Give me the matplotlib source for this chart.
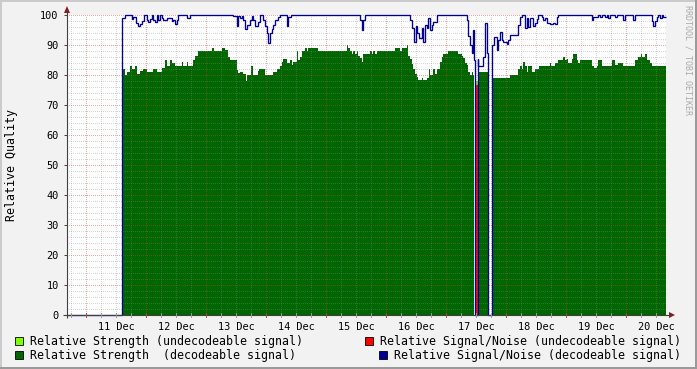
import numpy as np
import matplotlib
matplotlib.use("Agg")
import matplotlib.pyplot as plt
from matplotlib.patches import Rectangle, Polygon

# ---------------- data (hours after 11 Dec 00:00) ----------------
day_labels = ["11 Dec", "12 Dec", "13 Dec", "14 Dec", "15 Dec",
              "16 Dec", "17 Dec", "18 Dec", "19 Dec", "20 Dec"]
label_hours = [12, 36, 60, 84, 108, 132, 156, 180, 204, 228]
y_ticks = [0, 10, 20, 30, 40, 50, 60, 70, 80, 90, 100]

t_start, t_end = -7.6, 232.0

# Relative Strength (decodeable) - step series: start times and values
green_t = [14.5, 15.6, 16.3, 17.6, 18.3, 19.6, 20.3, 21.6, 22.8, 24.3, 26.8, 28.3,
           30.3, 31.6, 32.3, 33.6, 34.3, 35.6, 38.3, 38.9, 40.3, 40.9, 42.9, 43.6,
           44.9, 50.3, 51.2, 54.3, 55.6, 56.9, 57.6, 60.3, 60.9, 61.6, 62.8, 64.0,
           64.3, 66.0, 66.7, 68.9, 69.2, 71.6, 74.9, 76.3, 77.6, 78.3, 78.9, 80.3,
           81.6, 82.3, 82.9, 84.3, 84.9, 85.6, 86.3, 87.6, 88.3, 88.9, 92.9, 104.3,
           104.9, 105.6, 106.3, 106.9, 107.6, 108.3, 108.9, 109.6, 110.3, 110.9, 113.6,
           114.3, 114.9, 115.6, 116.3, 123.6, 125.6, 126.3, 128.3, 128.9, 129.6, 130.3,
           130.9, 131.6, 132.3, 132.9, 134.3, 134.9, 136.3, 137.2, 137.6, 138.7, 139.6,
           140.3, 141.6, 142.3, 142.9, 144.9, 148.9, 150.3, 150.9, 151.6, 152.3, 152.9,
           153.6, 154.3, 154.9, 155.3, 156.7, 160.9, 162.9, 169.6, 172.9, 173.6, 174.3,
           174.9, 175.6, 176.3, 176.9, 178.3, 179.6, 181.2, 185.6, 186.0, 187.6, 188.7,
           190.9, 191.6, 192.3, 192.9, 194.3, 194.9, 196.3, 196.9, 197.6, 202.3, 203.3,
           204.3, 204.9, 206.3, 210.3, 211.6, 212.9, 214.9, 219.6, 220.9, 222.0, 222.5,
           223.6, 224.3, 225.6, 226.3]
green_v = [82, 80, 81, 83, 82, 83, 80.5, 81.5, 82, 81, 82, 81,
           82.5, 85, 83, 85, 84, 83, 84.5, 83, 84.5, 83, 85, 86.5,
           88, 89, 88, 89, 88.5, 86, 85, 81.7, 80.6, 81, 80.2, 78,
           80, 83, 80, 81.5, 82, 80, 81, 82, 83, 84.5, 85.5, 84,
           85, 83.3, 84.4, 88, 85, 86, 88, 89, 88, 89, 88, 90,
           89, 88, 87, 88, 87, 88, 86.4, 85.8, 84.4, 87, 88,
           87, 88, 87, 88, 89, 88, 89, 90, 86.4, 85.3, 83.7,
           82, 80.3, 79.2, 78.4, 79, 78.4, 79, 82, 80, 82, 80.3,
           82, 84.2, 85.9, 87, 88, 87, 86.3, 85.8, 84, 83.4, 81,
           80, 81, 80, 0, 81, 0, 79, 80, 82, 83, 82,
           84.4, 83, 81, 83, 81, 82, 83, 84, 83, 84, 85,
           86, 85, 85.5, 84, 85.5, 87, 85, 84, 85, 83, 82.5,
           83, 85, 83, 85, 83.5, 84, 83, 85, 86, 87, 86,
           87, 85, 84, 83]

# Relative Signal/Noise (decodeable)
blue_t = [-7.6, 14.5, 15.6, 18.3, 18.9, 19.9, 20.6, 21.6, 22.3, 23.3, 24.3, 24.9,
          25.6, 26.3, 26.9, 27.6, 28.3, 28.9, 29.6, 30.3, 30.9, 32.3, 34.3, 34.9,
          35.6, 36.3, 36.9, 40.3, 41.6, 58.8, 60.3, 60.9, 61.6, 62.3, 62.9, 63.6,
          64.3, 65.6, 66.3, 66.9, 67.6, 68.9, 69.6, 70.9, 71.6, 72.3, 72.9, 73.6,
          74.3, 74.9, 75.6, 76.9, 77.6, 80.3, 80.9, 81.9, 109.6, 110.3, 110.9, 111.6,
          129.6, 130.3, 131.2, 132.0, 132.5, 133.3, 134.3, 134.9, 135.6, 136.3, 136.9,
          137.6, 138.3, 138.9, 140.3, 152.3, 152.9, 153.6, 154.3, 154.9, 155.3, 155.6,
          156.7, 156.9, 158.9, 159.6, 160.3, 160.8, 162.3, 163.3, 164.3, 164.9, 165.6,
          166.3, 166.8, 168.3, 168.9, 169.6, 172.9, 173.6, 174.3, 175.6, 176.3, 176.9,
          177.6, 178.9, 179.6, 180.3, 180.9, 182.3, 182.9, 183.6, 184.3, 185.6, 186.9,
          187.6, 188.3, 188.9, 202.3, 202.9, 203.6, 204.9, 205.6, 206.3, 207.6, 208.3,
          208.9, 209.6, 211.6, 212.3, 214.9, 215.6, 218.9, 219.6, 226.3, 226.9, 227.6,
          228.3, 228.9, 229.6, 230.3, 230.9]
blue_v = [0, 99, 100, 98.8, 99.5, 97.4, 96.3, 97, 98, 100, 98.5, 97.8,
          98.6, 100, 98.5, 97.8, 100, 98.5, 100, 99, 98.5, 99, 98, 98.5,
          97, 98.4, 100, 99, 100, 99.7, 96.3, 99.7, 98.9, 99.7, 98.3, 95.2,
          96.7, 98.3, 99.7, 98.3, 96.3, 97.8, 100, 98.3, 96.3, 94, 90.8, 94,
          95.2, 96.7, 98.3, 99.2, 100, 96.3, 99.4, 100, 98.3, 95, 98.3, 100,
          98.3, 95.6, 91.1, 96.3, 94, 92.2, 95.6, 91.1, 96.7, 95.6, 98.9,
          95, 96.7, 97.8, 100, 98.3, 93, 90, 87.3, 95, 85, 0,
          85.2, 83, 86, 97.4, 87.2, 0, 90, 92.8, 88.3, 91.7, 94.4,
          91.7, 91, 90.5, 91.7, 93.3, 96.7, 99.4, 100, 95.6, 99, 96,
          99, 96.5, 97.4, 98.8, 100, 99.2, 98.4, 99, 97.4, 97, 97.4,
          97, 99.4, 100, 98.3, 99.4, 99.2, 100, 99.4, 100, 99.2, 100,
          98.9, 100, 99.2, 100, 98.3, 100, 98.3, 100, 98, 96.3, 98,
          99.4, 100, 99, 100, 99.2]

# undecodeable signal samples
lime_t = [155.9, 156.7]
lime_v = [78]
red_t = [156.0, 156.3]
red_v = [76.7]

# ---------------- styling ----------------
W, H = 697, 369
BG = "#F2F2F2"
C_GREEN = "#006600"
C_LIME = "#80FF00"
C_RED = "#FF0000"
C_BLUE = "#000099"
MONO = "DejaVu Sans Mono"

fig = plt.figure(figsize=(W / 100, H / 100), dpi=100)
fig.patch.set_facecolor(BG)

L, R, T, B = 67, 666, 15, 315
ax = fig.add_axes([L / W, 1 - B / H, (R - L) / W, (B - T) / H])
ax.set_facecolor("white")
ax.set_xlim(t_start, t_end)
ax.set_ylim(0, 100)
for s in ax.spines.values():
    s.set_visible(False)

# data
ax.stairs(green_v, green_t + [t_end], fill=True, color=C_GREEN, baseline=0,
          lw=0, zorder=1)
ax.stairs(lime_v, lime_t, fill=True, color=C_LIME, baseline=0, lw=0, zorder=1.5)
ax.stairs(red_v, red_t, baseline=0, color=C_RED, lw=0.9, zorder=1.6)

# grid (drawn over the area, under the line)
dots = (0, (1, 2))
MINOR_C, MAJOR_C = "#8C8C8C", "#D04040"
for y in range(2, 100, 2):
    if y % 10:
        ax.axhline(y, color=MINOR_C, alpha=0.35, lw=0.72, ls=dots, zorder=2,
                   antialiased=False)
for y in range(10, 101, 10):
    ax.axhline(y, color=MAJOR_C, alpha=0.45, lw=0.72, ls=dots, zorder=2,
               antialiased=False)
for h in range(-6, 232, 6):
    if h % 24:
        ax.axvline(h, color=MINOR_C, alpha=0.35, lw=0.72, ls=dots, zorder=2,
                   antialiased=False)
for h in range(0, 232, 24):
    ax.axvline(h, color=MAJOR_C, alpha=0.45, lw=0.72, ls=dots, zorder=2,
               antialiased=False)

ax.stairs(blue_v, blue_t + [t_end], baseline=None, color=C_BLUE, lw=0.95,
          zorder=4, clip_on=False)

# ticks and labels
ax.set_yticks(y_ticks)
ax.set_yticklabels([str(v) for v in y_ticks], family=MONO, fontsize=7.4)
ax.set_xticks(label_hours)
ax.set_xticklabels(day_labels, family=MONO, fontsize=7.4)
ax.tick_params(axis="y", length=2.5, width=0.7, color="#404040", pad=3.5,
               direction="out")
ax.tick_params(axis="x", length=0, pad=5)

# ---------------- overlay in pixel coordinates ----------------
ov = fig.add_axes([0, 0, 1, 1], zorder=10)
ov.set_xlim(0, W)
ov.set_ylim(H, 0)
ov.axis("off")
ov.patch.set_alpha(0)

# image border (3D look)
ov.add_patch(Rectangle((0, 0), W, 2, color="#CBCBCB", lw=0))
ov.add_patch(Rectangle((0, 0), 2, H, color="#CBCBCB", lw=0))
ov.add_patch(Rectangle((W - 2, 0), 2, H, color="#9A9A9A", lw=0))
ov.add_patch(Rectangle((0, H - 2), W, 2, color="#9A9A9A", lw=0))

# axes lines with arrows
AX_C = "#404040"
ov.plot([L, L], [B + 3, 10], color=AX_C, lw=0.8, solid_capstyle="butt")
ov.plot([L - 4, R + 5], [B, B], color=AX_C, lw=0.8, solid_capstyle="butt")
ov.add_patch(Polygon([[L - 3, 13], [L + 3, 13], [L, 6]], closed=True,
                     color="#8B1A1A", lw=0))
ov.add_patch(Polygon([[R + 3, B - 3], [R + 3, B + 3], [R + 9, B]], closed=True,
                     color="#8B1A1A", lw=0))
# x tick marks at midnights (major) and every 6h (minor)
px_per_h = (R - L) / (t_end - t_start)
for h in range(-6, 232, 6):
    x = L + (h - t_start) * px_per_h
    col = "#C04040" if h % 24 == 0 else "#999999"
    ov.plot([x, x], [B - 2, B + 2], color=col, lw=0.7)

# axis title
fig.text(12 / W, 1 - 165 / H, "Relative Quality", rotation=90, ha="center",
         va="center", family=MONO, fontsize=8.4, color="black")
# watermark
fig.text(688 / W, 1 - 60 / H, "RRDTOOL / TOBI OETIKER", rotation=270,
         ha="center", va="center", family=MONO, fontsize=6.0, color="#AAAAAA")

# legend
legend_items = [
    (19, 341, C_LIME, 30, "Relative Strength (undecodeable signal)"),
    (19, 355, C_GREEN, 30, "Relative Strength  (decodeable signal)"),
    (369, 341, C_RED, 380, "Relative Signal/Noise (undecodeable signal)"),
    (383, 355, C_BLUE, 394, "Relative Signal/Noise (decodeable signal)"),
]
for sx, sy, col, tx, txt in legend_items:
    ov.add_patch(Rectangle((sx - 4, sy - 4), 8, 8, facecolor=col,
                           edgecolor="black", lw=0.6))
    ov.text(tx, sy, txt, ha="left", va="center", family=MONO, fontsize=8.4,
            color="black")

fig.savefig("out.png", dpi=100, facecolor=BG)
